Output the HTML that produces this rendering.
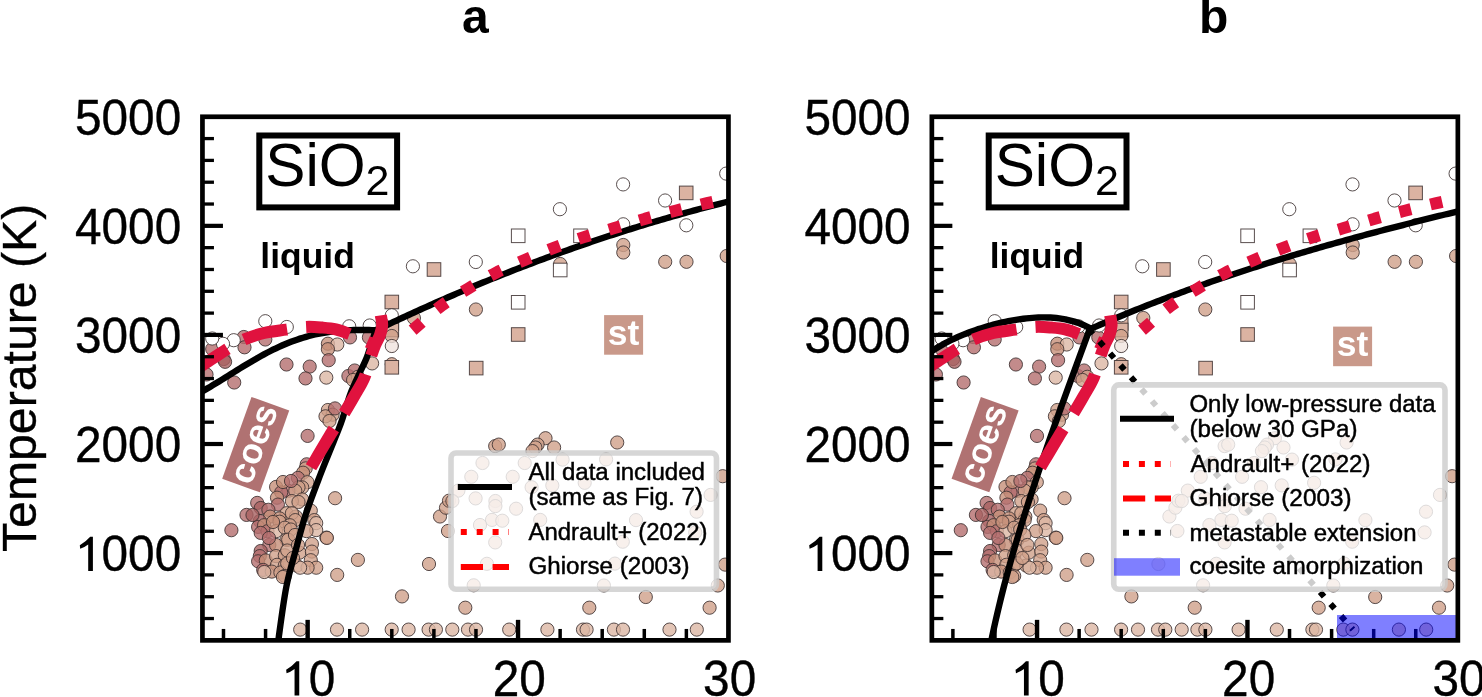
<!DOCTYPE html><html><head><meta charset="utf-8"><style>html,body{margin:0;padding:0;background:#fff;overflow:hidden}svg{display:block;will-change:transform}</style></head><body>
<svg width="1482" height="697" viewBox="0 0 1482 697" font-family="'Liberation Sans', sans-serif">
<rect width="1482" height="697" fill="#fff"/>
<text x="462" y="32.6" font-size="48" font-weight="bold">a</text>
<text x="1199" y="32.6" font-size="48" font-weight="bold">b</text>
<text transform="translate(35.6,552) rotate(-90)" font-size="48" textLength="348.2" lengthAdjust="spacingAndGlyphs" stroke="#000" stroke-width="0.35">Temperature (K)</text>
<g transform="translate(0,0)">
<defs><clipPath id="clipa"><rect x="202.45" y="116.77" width="526" height="523.58"/></clipPath></defs>
<g clip-path="url(#clipa)">
<g stroke="#3c3030" stroke-width="1" stroke-opacity="0.85">
<circle cx="559.9" cy="209.2" r="6.6" fill="#ffffff" fill-opacity="1"/>
<circle cx="623.1" cy="184.4" r="6.6" fill="#ffffff" fill-opacity="1"/>
<circle cx="665.1" cy="200.5" r="6.6" fill="#ffffff" fill-opacity="1"/>
<rect x="679.4" y="186.1" width="13.6" height="13.6" fill="#dbb3a2"/>
<circle cx="686.3" cy="225.3" r="6.6" fill="#ffffff" fill-opacity="1"/>
<circle cx="726.2" cy="173.6" r="6.6" fill="#ffffff" fill-opacity="1"/>
<circle cx="623.2" cy="224.3" r="6.6" fill="#ffffff" fill-opacity="1"/>
<rect x="511.4" y="229" width="13.6" height="13.6" fill="#ffffff"/>
<rect x="573.7" y="229" width="13.6" height="13.6" fill="#ffffff"/>
<circle cx="412.9" cy="266.3" r="6.6" fill="#ffffff" fill-opacity="1"/>
<rect x="427.2" y="262.7" width="13.6" height="13.6" fill="#dbb3a2"/>
<circle cx="475.8" cy="262" r="6.6" fill="#ffffff" fill-opacity="1"/>
<rect x="511.4" y="295.5" width="13.6" height="13.6" fill="#ffffff"/>
<rect x="511.4" y="327.7" width="13.6" height="13.6" fill="#dbb3a2"/>
<circle cx="475.9" cy="309.5" r="6.6" fill="#d0a08a" fill-opacity="0.8"/>
<circle cx="413.9" cy="318" r="6.6" fill="#d0a08a" fill-opacity="0.8"/>
<circle cx="560.2" cy="264" r="6.6" fill="#d0a08a" fill-opacity="0.8"/>
<rect x="553.4" y="263.2" width="13.6" height="13.6" fill="#ffffff"/>
<circle cx="623.3" cy="245" r="6.6" fill="#d0a08a" fill-opacity="0.8"/>
<circle cx="623.3" cy="252.5" r="6.6" fill="#d0a08a" fill-opacity="0.8"/>
<circle cx="665.2" cy="261.8" r="6.6" fill="#d0a08a" fill-opacity="0.8"/>
<circle cx="686.5" cy="261.8" r="6.6" fill="#d0a08a" fill-opacity="0.8"/>
<circle cx="726.7" cy="256" r="6.6" fill="#d0a08a" fill-opacity="0.8"/>
<rect x="469.4" y="361.3" width="13.6" height="13.6" fill="#dbb3a2"/>
<rect x="385" y="295.2" width="13.6" height="13.6" fill="#dbb3a2"/>
<rect x="385" y="316.7" width="13.6" height="13.6" fill="#dbb3a2"/>
<rect x="385" y="323.2" width="13.6" height="13.6" fill="#dbb3a2"/>
<circle cx="391.8" cy="336" r="6.6" fill="#d0a08a" fill-opacity="0.8"/>
<circle cx="391.8" cy="315.3" r="6.6" fill="#ffffff" fill-opacity="1"/>
<circle cx="391.8" cy="346" r="6.6" fill="#f0e4de" fill-opacity="0.8"/>
<circle cx="391.8" cy="364.2" r="6.6" fill="#d0a08a" fill-opacity="0.8"/>
<rect x="385" y="360.5" width="13.6" height="13.6" fill="#dbb3a2"/>
<circle cx="243.8" cy="337" r="6.6" fill="#b46e6e" fill-opacity="0.8"/>
<circle cx="265.3" cy="339.5" r="6.6" fill="#b46e6e" fill-opacity="0.8"/>
<circle cx="244.5" cy="347.3" r="6.6" fill="#b46e6e" fill-opacity="0.8"/>
<circle cx="212.2" cy="349" r="6.6" fill="#b46e6e" fill-opacity="0.8"/>
<circle cx="223.7" cy="359" r="6.6" fill="#b46e6e" fill-opacity="0.8"/>
<circle cx="225.1" cy="361.8" r="6.6" fill="#a86060" fill-opacity="0.8"/>
<circle cx="206.5" cy="374.5" r="6.6" fill="#b46e6e" fill-opacity="0.8"/>
<circle cx="286.5" cy="364.5" r="6.6" fill="#b46e6e" fill-opacity="0.8"/>
<circle cx="234.2" cy="382.5" r="6.6" fill="#b46e6e" fill-opacity="0.8"/>
<circle cx="350" cy="337.4" r="6.6" fill="#b46e6e" fill-opacity="0.8"/>
<circle cx="368.9" cy="337.4" r="6.6" fill="#b46e6e" fill-opacity="0.8"/>
<circle cx="327.9" cy="343.7" r="6.6" fill="#c58f78" fill-opacity="0.8"/>
<circle cx="337.3" cy="344.5" r="6.6" fill="#dcb6a4" fill-opacity="0.8"/>
<circle cx="327.9" cy="349.2" r="6.6" fill="#c58f78" fill-opacity="0.8"/>
<circle cx="328.7" cy="360.2" r="6.6" fill="#b46e6e" fill-opacity="0.8"/>
<circle cx="309.7" cy="366.6" r="6.6" fill="#b46e6e" fill-opacity="0.8"/>
<circle cx="305.5" cy="378.4" r="6.6" fill="#b46e6e" fill-opacity="0.8"/>
<circle cx="326.3" cy="377.6" r="6.6" fill="#dcb6a4" fill-opacity="0.8"/>
<circle cx="348.4" cy="376" r="6.6" fill="#b46e6e" fill-opacity="0.8"/>
<circle cx="354.7" cy="370.5" r="6.6" fill="#b46e6e" fill-opacity="0.8"/>
<circle cx="357.9" cy="376.8" r="6.6" fill="#d0a08a" fill-opacity="0.8"/>
<circle cx="353.1" cy="380" r="6.6" fill="#d0a08a" fill-opacity="0.8"/>
<circle cx="372.1" cy="363.4" r="6.6" fill="#dcb6a4" fill-opacity="0.8"/>
<circle cx="327.9" cy="410" r="6.6" fill="#d0a08a" fill-opacity="0.8"/>
<circle cx="332.6" cy="414.7" r="6.6" fill="#d0a08a" fill-opacity="0.8"/>
<circle cx="325.5" cy="416.3" r="6.6" fill="#d0a08a" fill-opacity="0.8"/>
<circle cx="335" cy="408.4" r="6.6" fill="#b46e6e" fill-opacity="0.8"/>
<circle cx="329.5" cy="421" r="6.6" fill="#d0a08a" fill-opacity="0.8"/>
<circle cx="307.6" cy="435.9" r="6.6" fill="#b46e6e" fill-opacity="0.8"/>
<circle cx="306.7" cy="464.3" r="6.6" fill="#b46e6e" fill-opacity="0.8"/>
<circle cx="265.3" cy="321.2" r="6.6" fill="#ffffff" fill-opacity="1"/>
<circle cx="286.8" cy="327" r="6.6" fill="#ffffff" fill-opacity="1"/>
<circle cx="233.7" cy="340.2" r="6.6" fill="#ffffff" fill-opacity="1"/>
<circle cx="223" cy="343.8" r="6.6" fill="#ffffff" fill-opacity="1"/>
<circle cx="212.2" cy="338.5" r="6.6" fill="#ffffff" fill-opacity="1"/>
<circle cx="349.2" cy="326.3" r="6.6" fill="#ffffff" fill-opacity="1"/>
<circle cx="369.7" cy="325.5" r="6.6" fill="#ffffff" fill-opacity="1"/>
<circle cx="305.7" cy="468.4" r="6.6" fill="#d0a08a" fill-opacity="0.8"/>
<circle cx="303.1" cy="472.7" r="6.6" fill="#c58f78" fill-opacity="0.8"/>
<circle cx="297.9" cy="477.9" r="6.6" fill="#b46e6e" fill-opacity="0.8"/>
<circle cx="307.4" cy="482.2" r="6.6" fill="#d0a08a" fill-opacity="0.8"/>
<circle cx="302.2" cy="487.4" r="6.6" fill="#d0a08a" fill-opacity="0.8"/>
<circle cx="298.5" cy="487.4" r="6.6" fill="#d0a08a" fill-opacity="0.8"/>
<circle cx="288.4" cy="490.8" r="6.6" fill="#b46e6e" fill-opacity="0.8"/>
<circle cx="295.3" cy="490.8" r="6.6" fill="#d0a08a" fill-opacity="0.8"/>
<circle cx="302.2" cy="499.4" r="6.6" fill="#d0a08a" fill-opacity="0.8"/>
<circle cx="291.9" cy="501.1" r="6.6" fill="#d0a08a" fill-opacity="0.8"/>
<circle cx="298.5" cy="502" r="6.6" fill="#d0a08a" fill-opacity="0.8"/>
<circle cx="276.1" cy="486.9" r="6.6" fill="#c58f78" fill-opacity="0.8"/>
<circle cx="281.2" cy="492.4" r="6.6" fill="#b46e6e" fill-opacity="0.8"/>
<circle cx="277" cy="497.7" r="6.6" fill="#c58f78" fill-opacity="0.8"/>
<circle cx="277.9" cy="504.6" r="6.6" fill="#b46e6e" fill-opacity="0.8"/>
<circle cx="257.2" cy="502.9" r="6.6" fill="#b46e6e" fill-opacity="0.8"/>
<circle cx="260.7" cy="508" r="6.6" fill="#a86060" fill-opacity="0.8"/>
<circle cx="246.5" cy="514.9" r="6.6" fill="#b46e6e" fill-opacity="0.8"/>
<circle cx="268.4" cy="509.8" r="6.6" fill="#b46e6e" fill-opacity="0.8"/>
<circle cx="270.1" cy="516.6" r="6.6" fill="#c58f78" fill-opacity="0.8"/>
<circle cx="259.8" cy="521" r="6.6" fill="#a86060" fill-opacity="0.8"/>
<circle cx="286.5" cy="513.2" r="6.6" fill="#d0a08a" fill-opacity="0.8"/>
<circle cx="295.9" cy="516.6" r="6.6" fill="#d0a08a" fill-opacity="0.8"/>
<circle cx="279.6" cy="518.4" r="6.6" fill="#c58f78" fill-opacity="0.8"/>
<circle cx="291.9" cy="513.2" r="6.6" fill="#d0a08a" fill-opacity="0.8"/>
<circle cx="295.3" cy="520.1" r="6.6" fill="#d0a08a" fill-opacity="0.8"/>
<circle cx="310.8" cy="510.6" r="6.6" fill="#d0a08a" fill-opacity="0.8"/>
<circle cx="314.3" cy="520.1" r="6.6" fill="#d0a08a" fill-opacity="0.8"/>
<circle cx="279.5" cy="521.7" r="6.6" fill="#d0a08a" fill-opacity="0.8"/>
<circle cx="289.8" cy="525.2" r="6.6" fill="#d0a08a" fill-opacity="0.8"/>
<circle cx="258.1" cy="526.9" r="6.6" fill="#b46e6e" fill-opacity="0.8"/>
<circle cx="264.1" cy="525.2" r="6.6" fill="#c58f78" fill-opacity="0.8"/>
<circle cx="267.5" cy="531.2" r="6.6" fill="#b46e6e" fill-opacity="0.8"/>
<circle cx="276.1" cy="531.2" r="6.6" fill="#dcb6a4" fill-opacity="0.8"/>
<circle cx="260.7" cy="532.9" r="6.6" fill="#b46e6e" fill-opacity="0.8"/>
<circle cx="284.8" cy="527.7" r="6.6" fill="#d0a08a" fill-opacity="0.8"/>
<circle cx="290.8" cy="529.5" r="6.6" fill="#d0a08a" fill-opacity="0.8"/>
<circle cx="286.5" cy="539.8" r="6.6" fill="#d0a08a" fill-opacity="0.8"/>
<circle cx="269.3" cy="545" r="6.6" fill="#b46e6e" fill-opacity="0.8"/>
<circle cx="276.1" cy="545" r="6.6" fill="#c58f78" fill-opacity="0.8"/>
<circle cx="260.7" cy="551" r="6.6" fill="#a86060" fill-opacity="0.8"/>
<circle cx="259.8" cy="556.1" r="6.6" fill="#b46e6e" fill-opacity="0.8"/>
<circle cx="258.1" cy="561.3" r="6.6" fill="#b46e6e" fill-opacity="0.8"/>
<circle cx="265.8" cy="560.4" r="6.6" fill="#c58f78" fill-opacity="0.8"/>
<circle cx="276.1" cy="556.1" r="6.6" fill="#d0a08a" fill-opacity="0.8"/>
<circle cx="284.8" cy="555.3" r="6.6" fill="#d0a08a" fill-opacity="0.8"/>
<circle cx="277" cy="564.8" r="6.6" fill="#d0a08a" fill-opacity="0.8"/>
<circle cx="284.8" cy="565.6" r="6.6" fill="#d0a08a" fill-opacity="0.8"/>
<circle cx="263.2" cy="569.9" r="6.6" fill="#b46e6e" fill-opacity="0.8"/>
<circle cx="271.8" cy="571.6" r="6.6" fill="#c58f78" fill-opacity="0.8"/>
<circle cx="280.4" cy="572.5" r="6.6" fill="#d0a08a" fill-opacity="0.8"/>
<circle cx="284.8" cy="575.9" r="6.6" fill="#d0a08a" fill-opacity="0.8"/>
<circle cx="296.8" cy="565.6" r="6.6" fill="#d0a08a" fill-opacity="0.8"/>
<circle cx="299.4" cy="552.7" r="6.6" fill="#d0a08a" fill-opacity="0.8"/>
<circle cx="316.2" cy="523.1" r="6.6" fill="#dcb6a4" fill-opacity="0.8"/>
<circle cx="316.2" cy="530.1" r="6.6" fill="#dcb6a4" fill-opacity="0.8"/>
<circle cx="326.4" cy="537.6" r="6.6" fill="#d0a08a" fill-opacity="0.8"/>
<circle cx="311.9" cy="544" r="6.6" fill="#d0a08a" fill-opacity="0.8"/>
<circle cx="311.9" cy="551.6" r="6.6" fill="#d0a08a" fill-opacity="0.8"/>
<circle cx="310.8" cy="560.2" r="6.6" fill="#d0a08a" fill-opacity="0.8"/>
<circle cx="316.2" cy="567.7" r="6.6" fill="#d0a08a" fill-opacity="0.8"/>
<circle cx="307.6" cy="567.7" r="6.6" fill="#d0a08a" fill-opacity="0.8"/>
<circle cx="300.1" cy="567.7" r="6.6" fill="#dcb6a4" fill-opacity="0.8"/>
<circle cx="306.5" cy="531.1" r="6.6" fill="#d0a08a" fill-opacity="0.8"/>
<circle cx="288.2" cy="539.7" r="6.6" fill="#d0a08a" fill-opacity="0.8"/>
<circle cx="287.2" cy="550.5" r="6.6" fill="#d0a08a" fill-opacity="0.8"/>
<circle cx="287.2" cy="563.4" r="6.6" fill="#d0a08a" fill-opacity="0.8"/>
<circle cx="295" cy="535" r="6.6" fill="#d0a08a" fill-opacity="0.8"/>
<circle cx="298" cy="545" r="6.6" fill="#d0a08a" fill-opacity="0.8"/>
<circle cx="293" cy="558" r="6.6" fill="#d0a08a" fill-opacity="0.8"/>
<circle cx="264.3" cy="572" r="6.6" fill="#dcb6a4" fill-opacity="0.8"/>
<circle cx="282.9" cy="577" r="6.6" fill="#d0a08a" fill-opacity="0.8"/>
<circle cx="269" cy="538" r="6.6" fill="#b46e6e" fill-opacity="0.8"/>
<circle cx="283" cy="482" r="6.6" fill="#c58f78" fill-opacity="0.8"/>
<circle cx="291" cy="481" r="6.6" fill="#b46e6e" fill-opacity="0.8"/>
<circle cx="273" cy="522" r="6.6" fill="#c58f78" fill-opacity="0.8"/>
<circle cx="252.5" cy="515" r="6.6" fill="#a86060" fill-opacity="0.8"/>
<circle cx="231.4" cy="530.2" r="6.6" fill="#b46e6e" fill-opacity="0.8"/>
<circle cx="335.1" cy="498.2" r="6.6" fill="#d0a08a" fill-opacity="0.8"/>
<circle cx="337.2" cy="574.9" r="6.6" fill="#d0a08a" fill-opacity="0.8"/>
<circle cx="326.9" cy="537.9" r="6.6" fill="#d0a08a" fill-opacity="0.8"/>
<circle cx="357.9" cy="559.9" r="6.6" fill="#d0a08a" fill-opacity="0.8"/>
<circle cx="429" cy="564" r="6.6" fill="#d0a08a" fill-opacity="0.8"/>
<circle cx="402" cy="596.4" r="6.6" fill="#d0a08a" fill-opacity="0.8"/>
<circle cx="440" cy="516.5" r="6.6" fill="#d0a08a" fill-opacity="0.8"/>
<circle cx="446" cy="507.7" r="6.6" fill="#d0a08a" fill-opacity="0.8"/>
<circle cx="449" cy="500.7" r="6.6" fill="#d0a08a" fill-opacity="0.8"/>
<circle cx="448" cy="531" r="6.6" fill="#d0a08a" fill-opacity="0.8"/>
<circle cx="465.3" cy="607.7" r="6.6" fill="#d0a08a" fill-opacity="0.8"/>
<circle cx="589.3" cy="607.7" r="6.6" fill="#d0a08a" fill-opacity="0.8"/>
<circle cx="645.8" cy="597" r="6.6" fill="#d0a08a" fill-opacity="0.8"/>
<circle cx="709.6" cy="607.7" r="6.6" fill="#d0a08a" fill-opacity="0.8"/>
<circle cx="717.8" cy="585.5" r="6.6" fill="#d0a08a" fill-opacity="0.8"/>
<circle cx="725.1" cy="564.6" r="6.6" fill="#d0a08a" fill-opacity="0.8"/>
<circle cx="722.7" cy="476.2" r="6.6" fill="#d0a08a" fill-opacity="0.8"/>
<circle cx="495.2" cy="446.1" r="6.6" fill="#d0a08a" fill-opacity="0.8"/>
<circle cx="498.8" cy="444.6" r="6.6" fill="#d0a08a" fill-opacity="0.8"/>
<circle cx="545.5" cy="438.2" r="6.6" fill="#d0a08a" fill-opacity="0.8"/>
<circle cx="537.6" cy="444.6" r="6.6" fill="#d0a08a" fill-opacity="0.8"/>
<circle cx="535.4" cy="447.5" r="6.6" fill="#d0a08a" fill-opacity="0.8"/>
<circle cx="532.5" cy="451.1" r="6.6" fill="#d0a08a" fill-opacity="0.8"/>
<circle cx="554.1" cy="447.5" r="6.6" fill="#d0a08a" fill-opacity="0.8"/>
<circle cx="617.2" cy="442.5" r="6.6" fill="#d0a08a" fill-opacity="0.8"/>
<circle cx="482.5" cy="463" r="6.6" fill="#d0a08a" fill-opacity="0.8"/>
<circle cx="471.3" cy="476.8" r="6.6" fill="#d0a08a" fill-opacity="0.8"/>
<circle cx="512.7" cy="476.8" r="6.6" fill="#d0a08a" fill-opacity="0.8"/>
<circle cx="524.7" cy="463" r="6.6" fill="#d0a08a" fill-opacity="0.8"/>
<circle cx="562.6" cy="459.6" r="6.6" fill="#d0a08a" fill-opacity="0.8"/>
<circle cx="475.6" cy="498.4" r="6.6" fill="#d0a08a" fill-opacity="0.8"/>
<circle cx="495.4" cy="501" r="6.6" fill="#d0a08a" fill-opacity="0.8"/>
<circle cx="495.4" cy="506.1" r="6.6" fill="#d0a08a" fill-opacity="0.8"/>
<circle cx="516.1" cy="508.7" r="6.6" fill="#d0a08a" fill-opacity="0.8"/>
<circle cx="531.6" cy="487.2" r="6.6" fill="#d0a08a" fill-opacity="0.8"/>
<circle cx="552.3" cy="485.4" r="6.6" fill="#d0a08a" fill-opacity="0.8"/>
<circle cx="492" cy="519.9" r="6.6" fill="#d0a08a" fill-opacity="0.8"/>
<circle cx="502.3" cy="520.7" r="6.6" fill="#d0a08a" fill-opacity="0.8"/>
<circle cx="480" cy="525" r="6.6" fill="#d0a08a" fill-opacity="0.8"/>
<circle cx="540.2" cy="519.9" r="6.6" fill="#d0a08a" fill-opacity="0.8"/>
<circle cx="458.4" cy="490.6" r="6.6" fill="#d0a08a" fill-opacity="0.8"/>
<circle cx="452.4" cy="501" r="6.6" fill="#d0a08a" fill-opacity="0.8"/>
<circle cx="606.1" cy="459.4" r="6.6" fill="#d0a08a" fill-opacity="0.8"/>
<circle cx="584.7" cy="482.8" r="6.6" fill="#d0a08a" fill-opacity="0.8"/>
<circle cx="636" cy="520.1" r="6.6" fill="#d0a08a" fill-opacity="0.8"/>
<circle cx="696.6" cy="511.7" r="6.6" fill="#d0a08a" fill-opacity="0.8"/>
<circle cx="710.6" cy="494.9" r="6.6" fill="#d0a08a" fill-opacity="0.8"/>
<circle cx="695.2" cy="532.4" r="6.6" fill="#d0a08a" fill-opacity="0.8"/>
<circle cx="495.2" cy="542.4" r="6.6" fill="#d0a08a" fill-opacity="0.8"/>
<circle cx="486.9" cy="563.8" r="6.6" fill="#d0a08a" fill-opacity="0.8"/>
<circle cx="473.7" cy="585.3" r="6.6" fill="#d0a08a" fill-opacity="0.8"/>
<circle cx="603.9" cy="585.5" r="6.6" fill="#d0a08a" fill-opacity="0.8"/>
<circle cx="614.9" cy="563.6" r="6.6" fill="#d0a08a" fill-opacity="0.8"/>
<circle cx="622.8" cy="541.7" r="6.6" fill="#d0a08a" fill-opacity="0.8"/>
<circle cx="300.2" cy="629.6" r="6.6" fill="#dcb6a4" fill-opacity="0.8"/>
<circle cx="337" cy="629.6" r="6.6" fill="#dcb6a4" fill-opacity="0.8"/>
<circle cx="362.1" cy="629.6" r="6.6" fill="#dcb6a4" fill-opacity="0.8"/>
<circle cx="391.7" cy="629.6" r="6.6" fill="#dcb6a4" fill-opacity="0.8"/>
<circle cx="408.6" cy="629.6" r="6.6" fill="#dcb6a4" fill-opacity="0.8"/>
<circle cx="428.6" cy="629.6" r="6.6" fill="#dcb6a4" fill-opacity="0.8"/>
<circle cx="435.9" cy="629.6" r="6.6" fill="#dcb6a4" fill-opacity="0.8"/>
<circle cx="452.3" cy="629.6" r="6.6" fill="#dcb6a4" fill-opacity="0.8"/>
<circle cx="468" cy="629.6" r="6.6" fill="#dcb6a4" fill-opacity="0.8"/>
<circle cx="476" cy="629.6" r="6.6" fill="#dcb6a4" fill-opacity="0.8"/>
<circle cx="509.2" cy="629.6" r="6.6" fill="#dcb6a4" fill-opacity="0.8"/>
<circle cx="547.4" cy="629.6" r="6.6" fill="#dcb6a4" fill-opacity="0.8"/>
<circle cx="583" cy="629.6" r="6.6" fill="#dcb6a4" fill-opacity="0.8"/>
<circle cx="586.6" cy="629.6" r="6.6" fill="#dcb6a4" fill-opacity="0.8"/>
<circle cx="613.9" cy="629.6" r="6.6" fill="#dcb6a4" fill-opacity="0.8"/>
<circle cx="623" cy="629.6" r="6.6" fill="#dcb6a4" fill-opacity="0.8"/>
<circle cx="669.5" cy="629.6" r="6.6" fill="#dcb6a4" fill-opacity="0.8"/>
<circle cx="696.8" cy="629.6" r="6.6" fill="#dcb6a4" fill-opacity="0.8"/>
</g>
<path d="M198 393.58 L201 391.99 L204 390.34 L207 388.64 L210 386.89 L213 385.11 L216 383.3 L219 381.47 L222 379.61 L225 377.75 L228 375.87 L231 373.99 L234 372.11 L237 370.24 L240 368.38 L243 366.54 L246 364.71 L249 362.91 L252 361.14 L255 359.39 L258 357.68 L261 356.01 L264 354.37 L267 352.78 L270 351.23 L273 349.73 L276 348.28 L279 346.88 L282 345.54 L285 344.24 L288 343.01 L291 341.83 L294 340.71 L297 339.65 L300 338.64 L303 337.7 L306 336.81 L309 335.99 L312 335.22 L315 334.51 L318 333.86 L321 333.27 L324 332.74 L327 332.25 L330 331.82 L333 331.45 L336 331.12 L339 330.84 L342 330.61 L345 330.41 L348 330.26 L351 330.15 L354 330.07 L357 330.02 L360 330 L363 330 L366 330.02 L369 330.06 L372 330.11 L375 330.17 L375.5 330.18" fill="none" stroke="#000" stroke-width="6.4" stroke-linejoin="round"/>
<path d="M375.5 330.2 C374.8 332.5 372.78 339.37 371.3 344 C369.82 348.63 368.35 353.58 366.6 358 C364.85 362.42 362.73 366.33 360.8 370.5 C358.87 374.67 356.87 378.75 355 383 C353.13 387.25 351.63 390.22 349.6 396 C347.57 401.78 344.68 412 342.8 417.7 C340.92 423.4 340.67 424.15 338.3 430.2 C335.93 436.25 331.93 445.7 328.6 454 C325.27 462.3 322.17 469.75 318.3 480 C314.43 490.25 309.2 503.67 305.4 515.5 C301.6 527.33 298.67 539.17 295.5 551 C292.33 562.83 289.17 572.3 286.4 586.5 C283.63 600.7 280.25 626.28 278.9 636.2 C277.55 646.12 278.4 644.37 278.3 646" fill="none" stroke="#000" stroke-width="6.4" stroke-linejoin="round"/>
<path d="M375.5 330.5 L378.5 329.06 L381.5 327.63 L384.5 326.2 L387.5 324.77 L390.5 323.35 L393.5 321.94 L396.5 320.54 L399.5 319.14 L402.5 317.74 L405.5 316.35 L408.5 314.97 L411.5 313.59 L414.5 312.22 L417.5 310.86 L420.5 309.5 L423.5 308.15 L426.5 306.8 L429.5 305.46 L432.5 304.12 L435.5 302.79 L438.5 301.47 L441.5 300.15 L444.5 298.84 L447.5 297.54 L450.5 296.24 L453.5 294.94 L456.5 293.66 L459.5 292.37 L462.5 291.1 L465.5 289.83 L468.5 288.56 L471.5 287.31 L474.5 286.05 L477.5 284.81 L480.5 283.57 L483.5 282.33 L486.5 281.1 L489.5 279.88 L492.5 278.66 L495.5 277.45 L498.5 276.25 L501.5 275.05 L504.5 273.86 L507.5 272.67 L510.5 271.49 L513.5 270.31 L516.5 269.14 L519.5 267.98 L522.5 266.82 L525.5 265.67 L528.5 264.53 L531.5 263.39 L534.5 262.25 L537.5 261.12 L540.5 260 L543.5 258.89 L546.5 257.78 L549.5 256.67 L552.5 255.57 L555.5 254.48 L558.5 253.39 L561.5 252.31 L564.5 251.24 L567.5 250.17 L570.5 249.11 L573.5 248.05 L576.5 247 L579.5 245.96 L582.5 244.92 L585.5 243.88 L588.5 242.86 L591.5 241.84 L594.5 240.82 L597.5 239.81 L600.5 238.81 L603.5 237.81 L606.5 236.82 L609.5 235.83 L612.5 234.85 L615.5 233.88 L618.5 232.91 L621.5 231.95 L624.5 230.99 L627.5 230.04 L630.5 229.1 L633.5 228.16 L636.5 227.23 L639.5 226.3 L642.5 225.38 L645.5 224.47 L648.5 223.56 L651.5 222.66 L654.5 221.76 L657.5 220.87 L660.5 219.98 L663.5 219.1 L666.5 218.23 L669.5 217.36 L672.5 216.5 L675.5 215.65 L678.5 214.8 L681.5 213.96 L684.5 213.12 L687.5 212.29 L690.5 211.46 L693.5 210.64 L696.5 209.83 L699.5 209.02 L702.5 208.22 L705.5 207.42 L708.5 206.63 L711.5 205.85 L714.5 205.07 L717.5 204.3 L720.5 203.53 L723.5 202.77 L726.5 202.02 L729.5 201.27 L732.5 200.52 L733 200.4" fill="none" stroke="#000" stroke-width="6.4" stroke-linejoin="round"/>
<path d="M190 373 C192.07 371.7 196.4 369.1 202.45 365.2 C208.5 361.3 219.46 353.83 226.3 349.6 C233.14 345.37 237.22 342.57 243.5 339.8 C249.78 337.03 256.9 334.7 264 333 C271.1 331.3 279.1 330.62 286.1 329.6 C293.1 328.58 299.92 327.23 306 326.9 C312.08 326.57 317.63 327.18 322.6 327.6 C327.57 328.02 331.35 328.33 335.8 329.4 C340.25 330.47 342.93 331.48 349.3 334 C355.67 336.52 369.88 342.75 374 344.5" fill="none" stroke="#e0123e" stroke-width="12" stroke-dasharray="44.4 19.2" stroke-dashoffset="0"/>
<path d="M311 467.3 C314.5 461.42 326.55 440.9 332 432 C337.45 423.1 340.03 419.82 343.7 413.9 C347.37 407.98 350.62 402.4 354 396.5 C357.38 390.6 361.25 384.92 364 378.5 C366.75 372.08 368.67 363.5 370.5 358 C372.33 352.5 373.42 349.33 375 345.5 C376.58 341.67 378.8 338.42 380 335 C381.2 331.58 382.07 328.28 382.2 325 C382.33 321.72 381.03 316.92 380.8 315.3" fill="none" stroke="#e0123e" stroke-width="12" stroke-dasharray="44.4 19.2"/>
<path d="M412.6 330.1 C413.37 329.45 412.38 330.28 417.2 326.2 C422.02 322.12 432.93 311.92 441.5 305.6 C450.07 299.28 459.53 293.77 468.6 288.3 C477.67 282.83 486.55 277.53 495.9 272.8 C505.25 268.07 515.03 264.07 524.7 259.9 C534.37 255.73 544.03 251.6 553.9 247.8 C563.77 244 573.82 240.38 583.9 237.1 C593.98 233.82 604.28 231.13 614.4 228.1 C624.52 225.07 634.43 221.8 644.6 218.9 C654.77 216 665 213.33 675.4 210.7 C685.8 208.07 697.9 205.22 707 203.1 C716.1 200.98 726.17 198.85 730 198" fill="none" stroke="#e0123e" stroke-width="12" stroke-dasharray="12 19.8"/>
</g>
<line x1="202.45" y1="618.53" x2="213.95" y2="618.53" stroke="#000" stroke-width="3.3"/>
<line x1="202.45" y1="596.72" x2="213.95" y2="596.72" stroke="#000" stroke-width="3.3"/>
<line x1="202.45" y1="574.9" x2="213.95" y2="574.9" stroke="#000" stroke-width="3.3"/>
<line x1="202.45" y1="553.09" x2="222.95" y2="553.09" stroke="#000" stroke-width="4.2"/>
<line x1="202.45" y1="531.27" x2="213.95" y2="531.27" stroke="#000" stroke-width="3.3"/>
<line x1="202.45" y1="509.45" x2="213.95" y2="509.45" stroke="#000" stroke-width="3.3"/>
<line x1="202.45" y1="487.64" x2="213.95" y2="487.64" stroke="#000" stroke-width="3.3"/>
<line x1="202.45" y1="465.82" x2="213.95" y2="465.82" stroke="#000" stroke-width="3.3"/>
<line x1="202.45" y1="444.01" x2="222.95" y2="444.01" stroke="#000" stroke-width="4.2"/>
<line x1="202.45" y1="422.19" x2="213.95" y2="422.19" stroke="#000" stroke-width="3.3"/>
<line x1="202.45" y1="400.37" x2="213.95" y2="400.37" stroke="#000" stroke-width="3.3"/>
<line x1="202.45" y1="378.56" x2="213.95" y2="378.56" stroke="#000" stroke-width="3.3"/>
<line x1="202.45" y1="356.74" x2="213.95" y2="356.74" stroke="#000" stroke-width="3.3"/>
<line x1="202.45" y1="334.93" x2="222.95" y2="334.93" stroke="#000" stroke-width="4.2"/>
<line x1="202.45" y1="313.11" x2="213.95" y2="313.11" stroke="#000" stroke-width="3.3"/>
<line x1="202.45" y1="291.29" x2="213.95" y2="291.29" stroke="#000" stroke-width="3.3"/>
<line x1="202.45" y1="269.48" x2="213.95" y2="269.48" stroke="#000" stroke-width="3.3"/>
<line x1="202.45" y1="247.66" x2="213.95" y2="247.66" stroke="#000" stroke-width="3.3"/>
<line x1="202.45" y1="225.85" x2="222.95" y2="225.85" stroke="#000" stroke-width="4.2"/>
<line x1="202.45" y1="204.03" x2="213.95" y2="204.03" stroke="#000" stroke-width="3.3"/>
<line x1="202.45" y1="182.21" x2="213.95" y2="182.21" stroke="#000" stroke-width="3.3"/>
<line x1="202.45" y1="160.4" x2="213.95" y2="160.4" stroke="#000" stroke-width="3.3"/>
<line x1="202.45" y1="138.58" x2="213.95" y2="138.58" stroke="#000" stroke-width="3.3"/>
<line x1="223.49" y1="640.35" x2="223.49" y2="628.95" stroke="#000" stroke-width="3.5"/>
<line x1="265.57" y1="640.35" x2="265.57" y2="628.95" stroke="#000" stroke-width="3.5"/>
<line x1="307.65" y1="640.35" x2="307.65" y2="619.85" stroke="#000" stroke-width="4.4"/>
<line x1="349.73" y1="640.35" x2="349.73" y2="628.95" stroke="#000" stroke-width="3.5"/>
<line x1="391.81" y1="640.35" x2="391.81" y2="628.95" stroke="#000" stroke-width="3.5"/>
<line x1="433.89" y1="640.35" x2="433.89" y2="628.95" stroke="#000" stroke-width="3.5"/>
<line x1="475.97" y1="640.35" x2="475.97" y2="628.95" stroke="#000" stroke-width="3.5"/>
<line x1="518.05" y1="640.35" x2="518.05" y2="619.85" stroke="#000" stroke-width="4.4"/>
<line x1="560.13" y1="640.35" x2="560.13" y2="628.95" stroke="#000" stroke-width="3.5"/>
<line x1="602.21" y1="640.35" x2="602.21" y2="628.95" stroke="#000" stroke-width="3.5"/>
<line x1="644.29" y1="640.35" x2="644.29" y2="628.95" stroke="#000" stroke-width="3.5"/>
<line x1="686.37" y1="640.35" x2="686.37" y2="628.95" stroke="#000" stroke-width="3.5"/>

<rect x="202.45" y="116.77" width="526" height="523.58" fill="none" stroke="#000" stroke-width="4.7"/>
<text transform="translate(181.2,571.39) scale(0.955,1)" font-size="50" text-anchor="end" stroke="#000" stroke-width="0.4">000</text>
<text transform="translate(181.2,462.31) scale(0.955,1)" font-size="50" text-anchor="end" stroke="#000" stroke-width="0.4">2000</text>
<text transform="translate(181.2,353.23) scale(0.955,1)" font-size="50" text-anchor="end" stroke="#000" stroke-width="0.4">3000</text>
<text transform="translate(181.2,244.15) scale(0.955,1)" font-size="50" text-anchor="end" stroke="#000" stroke-width="0.4">4000</text>
<text transform="translate(181.2,135.07) scale(0.955,1)" font-size="50" text-anchor="end" stroke="#000" stroke-width="0.4">5000</text>
<path transform="translate(0,0.7)" d="M92.9 536.1 L92.9 570.3 L88.2 570.3 L88.2 543.9 Q84.5 546.8 80.2 548.1 L79.8 544.5 Q86.5 540.5 90.2 536.1 Z"/>
<path transform="translate(206.35,125.2)" d="M92.9 536.1 L92.9 570.3 L88.2 570.3 L88.2 543.9 Q84.5 546.8 80.2 548.1 L79.8 544.5 Q86.5 540.5 90.2 536.1 Z"/>
<text transform="translate(335.4,695.8) scale(0.955,1)" font-size="50" text-anchor="end" stroke="#000" stroke-width="0.4">0</text>
<text transform="translate(519.25,695.8) scale(0.955,1)" font-size="50" text-anchor="middle" stroke="#000" stroke-width="0.4">20</text>
<text transform="translate(729.65,695.8) scale(0.955,1)" font-size="50" text-anchor="middle" stroke="#000" stroke-width="0.4">30</text>
<rect x="259.3" y="135.5" width="137.8" height="71.9" fill="#fff" stroke="#000" stroke-width="6"/><text x="265.3" y="185.5" font-size="62" textLength="100.4" lengthAdjust="spacingAndGlyphs">SiO</text><text x="365.6" y="194.9" font-size="43">2</text>
<text x="260.3" y="267.8" font-size="35.5" font-weight="bold" textLength="94.5" lengthAdjust="spacingAndGlyphs">liquid</text>
</g>
<g transform="translate(729.4,0)">
<defs><clipPath id="clipb"><rect x="202.45" y="116.77" width="526" height="523.58"/></clipPath></defs>
<g clip-path="url(#clipb)">
<g stroke="#3c3030" stroke-width="1" stroke-opacity="0.85">
<circle cx="559.9" cy="209.2" r="6.6" fill="#ffffff" fill-opacity="1"/>
<circle cx="623.1" cy="184.4" r="6.6" fill="#ffffff" fill-opacity="1"/>
<circle cx="665.1" cy="200.5" r="6.6" fill="#ffffff" fill-opacity="1"/>
<rect x="679.4" y="186.1" width="13.6" height="13.6" fill="#dbb3a2"/>
<circle cx="686.3" cy="225.3" r="6.6" fill="#ffffff" fill-opacity="1"/>
<circle cx="726.2" cy="173.6" r="6.6" fill="#ffffff" fill-opacity="1"/>
<circle cx="623.2" cy="224.3" r="6.6" fill="#ffffff" fill-opacity="1"/>
<rect x="511.4" y="229" width="13.6" height="13.6" fill="#ffffff"/>
<rect x="573.7" y="229" width="13.6" height="13.6" fill="#ffffff"/>
<circle cx="412.9" cy="266.3" r="6.6" fill="#ffffff" fill-opacity="1"/>
<rect x="427.2" y="262.7" width="13.6" height="13.6" fill="#dbb3a2"/>
<circle cx="475.8" cy="262" r="6.6" fill="#ffffff" fill-opacity="1"/>
<rect x="511.4" y="295.5" width="13.6" height="13.6" fill="#ffffff"/>
<rect x="511.4" y="327.7" width="13.6" height="13.6" fill="#dbb3a2"/>
<circle cx="475.9" cy="309.5" r="6.6" fill="#d0a08a" fill-opacity="0.8"/>
<circle cx="413.9" cy="318" r="6.6" fill="#d0a08a" fill-opacity="0.8"/>
<circle cx="560.2" cy="264" r="6.6" fill="#d0a08a" fill-opacity="0.8"/>
<rect x="553.4" y="263.2" width="13.6" height="13.6" fill="#ffffff"/>
<circle cx="623.3" cy="245" r="6.6" fill="#d0a08a" fill-opacity="0.8"/>
<circle cx="623.3" cy="252.5" r="6.6" fill="#d0a08a" fill-opacity="0.8"/>
<circle cx="665.2" cy="261.8" r="6.6" fill="#d0a08a" fill-opacity="0.8"/>
<circle cx="686.5" cy="261.8" r="6.6" fill="#d0a08a" fill-opacity="0.8"/>
<circle cx="726.7" cy="256" r="6.6" fill="#d0a08a" fill-opacity="0.8"/>
<rect x="469.4" y="361.3" width="13.6" height="13.6" fill="#dbb3a2"/>
<rect x="385" y="295.2" width="13.6" height="13.6" fill="#dbb3a2"/>
<rect x="385" y="316.7" width="13.6" height="13.6" fill="#dbb3a2"/>
<rect x="385" y="323.2" width="13.6" height="13.6" fill="#dbb3a2"/>
<circle cx="391.8" cy="336" r="6.6" fill="#d0a08a" fill-opacity="0.8"/>
<circle cx="391.8" cy="315.3" r="6.6" fill="#ffffff" fill-opacity="1"/>
<circle cx="391.8" cy="346" r="6.6" fill="#f0e4de" fill-opacity="0.8"/>
<circle cx="391.8" cy="364.2" r="6.6" fill="#d0a08a" fill-opacity="0.8"/>
<rect x="385" y="360.5" width="13.6" height="13.6" fill="#dbb3a2"/>
<circle cx="243.8" cy="337" r="6.6" fill="#b46e6e" fill-opacity="0.8"/>
<circle cx="265.3" cy="339.5" r="6.6" fill="#b46e6e" fill-opacity="0.8"/>
<circle cx="244.5" cy="347.3" r="6.6" fill="#b46e6e" fill-opacity="0.8"/>
<circle cx="212.2" cy="349" r="6.6" fill="#b46e6e" fill-opacity="0.8"/>
<circle cx="223.7" cy="359" r="6.6" fill="#b46e6e" fill-opacity="0.8"/>
<circle cx="225.1" cy="361.8" r="6.6" fill="#a86060" fill-opacity="0.8"/>
<circle cx="206.5" cy="374.5" r="6.6" fill="#b46e6e" fill-opacity="0.8"/>
<circle cx="286.5" cy="364.5" r="6.6" fill="#b46e6e" fill-opacity="0.8"/>
<circle cx="234.2" cy="382.5" r="6.6" fill="#b46e6e" fill-opacity="0.8"/>
<circle cx="350" cy="337.4" r="6.6" fill="#b46e6e" fill-opacity="0.8"/>
<circle cx="368.9" cy="337.4" r="6.6" fill="#b46e6e" fill-opacity="0.8"/>
<circle cx="327.9" cy="343.7" r="6.6" fill="#c58f78" fill-opacity="0.8"/>
<circle cx="337.3" cy="344.5" r="6.6" fill="#dcb6a4" fill-opacity="0.8"/>
<circle cx="327.9" cy="349.2" r="6.6" fill="#c58f78" fill-opacity="0.8"/>
<circle cx="328.7" cy="360.2" r="6.6" fill="#b46e6e" fill-opacity="0.8"/>
<circle cx="309.7" cy="366.6" r="6.6" fill="#b46e6e" fill-opacity="0.8"/>
<circle cx="305.5" cy="378.4" r="6.6" fill="#b46e6e" fill-opacity="0.8"/>
<circle cx="326.3" cy="377.6" r="6.6" fill="#dcb6a4" fill-opacity="0.8"/>
<circle cx="348.4" cy="376" r="6.6" fill="#b46e6e" fill-opacity="0.8"/>
<circle cx="354.7" cy="370.5" r="6.6" fill="#b46e6e" fill-opacity="0.8"/>
<circle cx="357.9" cy="376.8" r="6.6" fill="#d0a08a" fill-opacity="0.8"/>
<circle cx="353.1" cy="380" r="6.6" fill="#d0a08a" fill-opacity="0.8"/>
<circle cx="372.1" cy="363.4" r="6.6" fill="#dcb6a4" fill-opacity="0.8"/>
<circle cx="327.9" cy="410" r="6.6" fill="#d0a08a" fill-opacity="0.8"/>
<circle cx="332.6" cy="414.7" r="6.6" fill="#d0a08a" fill-opacity="0.8"/>
<circle cx="325.5" cy="416.3" r="6.6" fill="#d0a08a" fill-opacity="0.8"/>
<circle cx="335" cy="408.4" r="6.6" fill="#b46e6e" fill-opacity="0.8"/>
<circle cx="329.5" cy="421" r="6.6" fill="#d0a08a" fill-opacity="0.8"/>
<circle cx="307.6" cy="435.9" r="6.6" fill="#b46e6e" fill-opacity="0.8"/>
<circle cx="306.7" cy="464.3" r="6.6" fill="#b46e6e" fill-opacity="0.8"/>
<circle cx="265.3" cy="321.2" r="6.6" fill="#ffffff" fill-opacity="1"/>
<circle cx="286.8" cy="327" r="6.6" fill="#ffffff" fill-opacity="1"/>
<circle cx="233.7" cy="340.2" r="6.6" fill="#ffffff" fill-opacity="1"/>
<circle cx="223" cy="343.8" r="6.6" fill="#ffffff" fill-opacity="1"/>
<circle cx="212.2" cy="338.5" r="6.6" fill="#ffffff" fill-opacity="1"/>
<circle cx="349.2" cy="326.3" r="6.6" fill="#ffffff" fill-opacity="1"/>
<circle cx="369.7" cy="325.5" r="6.6" fill="#ffffff" fill-opacity="1"/>
<circle cx="305.7" cy="468.4" r="6.6" fill="#d0a08a" fill-opacity="0.8"/>
<circle cx="303.1" cy="472.7" r="6.6" fill="#c58f78" fill-opacity="0.8"/>
<circle cx="297.9" cy="477.9" r="6.6" fill="#b46e6e" fill-opacity="0.8"/>
<circle cx="307.4" cy="482.2" r="6.6" fill="#d0a08a" fill-opacity="0.8"/>
<circle cx="302.2" cy="487.4" r="6.6" fill="#d0a08a" fill-opacity="0.8"/>
<circle cx="298.5" cy="487.4" r="6.6" fill="#d0a08a" fill-opacity="0.8"/>
<circle cx="288.4" cy="490.8" r="6.6" fill="#b46e6e" fill-opacity="0.8"/>
<circle cx="295.3" cy="490.8" r="6.6" fill="#d0a08a" fill-opacity="0.8"/>
<circle cx="302.2" cy="499.4" r="6.6" fill="#d0a08a" fill-opacity="0.8"/>
<circle cx="291.9" cy="501.1" r="6.6" fill="#d0a08a" fill-opacity="0.8"/>
<circle cx="298.5" cy="502" r="6.6" fill="#d0a08a" fill-opacity="0.8"/>
<circle cx="276.1" cy="486.9" r="6.6" fill="#c58f78" fill-opacity="0.8"/>
<circle cx="281.2" cy="492.4" r="6.6" fill="#b46e6e" fill-opacity="0.8"/>
<circle cx="277" cy="497.7" r="6.6" fill="#c58f78" fill-opacity="0.8"/>
<circle cx="277.9" cy="504.6" r="6.6" fill="#b46e6e" fill-opacity="0.8"/>
<circle cx="257.2" cy="502.9" r="6.6" fill="#b46e6e" fill-opacity="0.8"/>
<circle cx="260.7" cy="508" r="6.6" fill="#a86060" fill-opacity="0.8"/>
<circle cx="246.5" cy="514.9" r="6.6" fill="#b46e6e" fill-opacity="0.8"/>
<circle cx="268.4" cy="509.8" r="6.6" fill="#b46e6e" fill-opacity="0.8"/>
<circle cx="270.1" cy="516.6" r="6.6" fill="#c58f78" fill-opacity="0.8"/>
<circle cx="259.8" cy="521" r="6.6" fill="#a86060" fill-opacity="0.8"/>
<circle cx="286.5" cy="513.2" r="6.6" fill="#d0a08a" fill-opacity="0.8"/>
<circle cx="295.9" cy="516.6" r="6.6" fill="#d0a08a" fill-opacity="0.8"/>
<circle cx="279.6" cy="518.4" r="6.6" fill="#c58f78" fill-opacity="0.8"/>
<circle cx="291.9" cy="513.2" r="6.6" fill="#d0a08a" fill-opacity="0.8"/>
<circle cx="295.3" cy="520.1" r="6.6" fill="#d0a08a" fill-opacity="0.8"/>
<circle cx="310.8" cy="510.6" r="6.6" fill="#d0a08a" fill-opacity="0.8"/>
<circle cx="314.3" cy="520.1" r="6.6" fill="#d0a08a" fill-opacity="0.8"/>
<circle cx="279.5" cy="521.7" r="6.6" fill="#d0a08a" fill-opacity="0.8"/>
<circle cx="289.8" cy="525.2" r="6.6" fill="#d0a08a" fill-opacity="0.8"/>
<circle cx="258.1" cy="526.9" r="6.6" fill="#b46e6e" fill-opacity="0.8"/>
<circle cx="264.1" cy="525.2" r="6.6" fill="#c58f78" fill-opacity="0.8"/>
<circle cx="267.5" cy="531.2" r="6.6" fill="#b46e6e" fill-opacity="0.8"/>
<circle cx="276.1" cy="531.2" r="6.6" fill="#dcb6a4" fill-opacity="0.8"/>
<circle cx="260.7" cy="532.9" r="6.6" fill="#b46e6e" fill-opacity="0.8"/>
<circle cx="284.8" cy="527.7" r="6.6" fill="#d0a08a" fill-opacity="0.8"/>
<circle cx="290.8" cy="529.5" r="6.6" fill="#d0a08a" fill-opacity="0.8"/>
<circle cx="286.5" cy="539.8" r="6.6" fill="#d0a08a" fill-opacity="0.8"/>
<circle cx="269.3" cy="545" r="6.6" fill="#b46e6e" fill-opacity="0.8"/>
<circle cx="276.1" cy="545" r="6.6" fill="#c58f78" fill-opacity="0.8"/>
<circle cx="260.7" cy="551" r="6.6" fill="#a86060" fill-opacity="0.8"/>
<circle cx="259.8" cy="556.1" r="6.6" fill="#b46e6e" fill-opacity="0.8"/>
<circle cx="258.1" cy="561.3" r="6.6" fill="#b46e6e" fill-opacity="0.8"/>
<circle cx="265.8" cy="560.4" r="6.6" fill="#c58f78" fill-opacity="0.8"/>
<circle cx="276.1" cy="556.1" r="6.6" fill="#d0a08a" fill-opacity="0.8"/>
<circle cx="284.8" cy="555.3" r="6.6" fill="#d0a08a" fill-opacity="0.8"/>
<circle cx="277" cy="564.8" r="6.6" fill="#d0a08a" fill-opacity="0.8"/>
<circle cx="284.8" cy="565.6" r="6.6" fill="#d0a08a" fill-opacity="0.8"/>
<circle cx="263.2" cy="569.9" r="6.6" fill="#b46e6e" fill-opacity="0.8"/>
<circle cx="271.8" cy="571.6" r="6.6" fill="#c58f78" fill-opacity="0.8"/>
<circle cx="280.4" cy="572.5" r="6.6" fill="#d0a08a" fill-opacity="0.8"/>
<circle cx="284.8" cy="575.9" r="6.6" fill="#d0a08a" fill-opacity="0.8"/>
<circle cx="296.8" cy="565.6" r="6.6" fill="#d0a08a" fill-opacity="0.8"/>
<circle cx="299.4" cy="552.7" r="6.6" fill="#d0a08a" fill-opacity="0.8"/>
<circle cx="316.2" cy="523.1" r="6.6" fill="#dcb6a4" fill-opacity="0.8"/>
<circle cx="316.2" cy="530.1" r="6.6" fill="#dcb6a4" fill-opacity="0.8"/>
<circle cx="326.4" cy="537.6" r="6.6" fill="#d0a08a" fill-opacity="0.8"/>
<circle cx="311.9" cy="544" r="6.6" fill="#d0a08a" fill-opacity="0.8"/>
<circle cx="311.9" cy="551.6" r="6.6" fill="#d0a08a" fill-opacity="0.8"/>
<circle cx="310.8" cy="560.2" r="6.6" fill="#d0a08a" fill-opacity="0.8"/>
<circle cx="316.2" cy="567.7" r="6.6" fill="#d0a08a" fill-opacity="0.8"/>
<circle cx="307.6" cy="567.7" r="6.6" fill="#d0a08a" fill-opacity="0.8"/>
<circle cx="300.1" cy="567.7" r="6.6" fill="#dcb6a4" fill-opacity="0.8"/>
<circle cx="306.5" cy="531.1" r="6.6" fill="#d0a08a" fill-opacity="0.8"/>
<circle cx="288.2" cy="539.7" r="6.6" fill="#d0a08a" fill-opacity="0.8"/>
<circle cx="287.2" cy="550.5" r="6.6" fill="#d0a08a" fill-opacity="0.8"/>
<circle cx="287.2" cy="563.4" r="6.6" fill="#d0a08a" fill-opacity="0.8"/>
<circle cx="295" cy="535" r="6.6" fill="#d0a08a" fill-opacity="0.8"/>
<circle cx="298" cy="545" r="6.6" fill="#d0a08a" fill-opacity="0.8"/>
<circle cx="293" cy="558" r="6.6" fill="#d0a08a" fill-opacity="0.8"/>
<circle cx="264.3" cy="572" r="6.6" fill="#dcb6a4" fill-opacity="0.8"/>
<circle cx="282.9" cy="577" r="6.6" fill="#d0a08a" fill-opacity="0.8"/>
<circle cx="269" cy="538" r="6.6" fill="#b46e6e" fill-opacity="0.8"/>
<circle cx="283" cy="482" r="6.6" fill="#c58f78" fill-opacity="0.8"/>
<circle cx="291" cy="481" r="6.6" fill="#b46e6e" fill-opacity="0.8"/>
<circle cx="273" cy="522" r="6.6" fill="#c58f78" fill-opacity="0.8"/>
<circle cx="252.5" cy="515" r="6.6" fill="#a86060" fill-opacity="0.8"/>
<circle cx="231.4" cy="530.2" r="6.6" fill="#b46e6e" fill-opacity="0.8"/>
<circle cx="335.1" cy="498.2" r="6.6" fill="#d0a08a" fill-opacity="0.8"/>
<circle cx="337.2" cy="574.9" r="6.6" fill="#d0a08a" fill-opacity="0.8"/>
<circle cx="326.9" cy="537.9" r="6.6" fill="#d0a08a" fill-opacity="0.8"/>
<circle cx="357.9" cy="559.9" r="6.6" fill="#d0a08a" fill-opacity="0.8"/>
<circle cx="429" cy="564" r="6.6" fill="#d0a08a" fill-opacity="0.8"/>
<circle cx="402" cy="596.4" r="6.6" fill="#d0a08a" fill-opacity="0.8"/>
<circle cx="440" cy="516.5" r="6.6" fill="#d0a08a" fill-opacity="0.8"/>
<circle cx="446" cy="507.7" r="6.6" fill="#d0a08a" fill-opacity="0.8"/>
<circle cx="449" cy="500.7" r="6.6" fill="#d0a08a" fill-opacity="0.8"/>
<circle cx="448" cy="531" r="6.6" fill="#d0a08a" fill-opacity="0.8"/>
<circle cx="465.3" cy="607.7" r="6.6" fill="#d0a08a" fill-opacity="0.8"/>
<circle cx="589.3" cy="607.7" r="6.6" fill="#d0a08a" fill-opacity="0.8"/>
<circle cx="645.8" cy="597" r="6.6" fill="#d0a08a" fill-opacity="0.8"/>
<circle cx="709.6" cy="607.7" r="6.6" fill="#d0a08a" fill-opacity="0.8"/>
<circle cx="717.8" cy="585.5" r="6.6" fill="#d0a08a" fill-opacity="0.8"/>
<circle cx="725.1" cy="564.6" r="6.6" fill="#d0a08a" fill-opacity="0.8"/>
<circle cx="722.7" cy="476.2" r="6.6" fill="#d0a08a" fill-opacity="0.8"/>
<circle cx="495.2" cy="446.1" r="6.6" fill="#d0a08a" fill-opacity="0.8"/>
<circle cx="498.8" cy="444.6" r="6.6" fill="#d0a08a" fill-opacity="0.8"/>
<circle cx="545.5" cy="438.2" r="6.6" fill="#d0a08a" fill-opacity="0.8"/>
<circle cx="537.6" cy="444.6" r="6.6" fill="#d0a08a" fill-opacity="0.8"/>
<circle cx="535.4" cy="447.5" r="6.6" fill="#d0a08a" fill-opacity="0.8"/>
<circle cx="532.5" cy="451.1" r="6.6" fill="#d0a08a" fill-opacity="0.8"/>
<circle cx="554.1" cy="447.5" r="6.6" fill="#d0a08a" fill-opacity="0.8"/>
<circle cx="617.2" cy="442.5" r="6.6" fill="#d0a08a" fill-opacity="0.8"/>
<circle cx="482.5" cy="463" r="6.6" fill="#d0a08a" fill-opacity="0.8"/>
<circle cx="471.3" cy="476.8" r="6.6" fill="#d0a08a" fill-opacity="0.8"/>
<circle cx="512.7" cy="476.8" r="6.6" fill="#d0a08a" fill-opacity="0.8"/>
<circle cx="524.7" cy="463" r="6.6" fill="#d0a08a" fill-opacity="0.8"/>
<circle cx="562.6" cy="459.6" r="6.6" fill="#d0a08a" fill-opacity="0.8"/>
<circle cx="475.6" cy="498.4" r="6.6" fill="#d0a08a" fill-opacity="0.8"/>
<circle cx="495.4" cy="501" r="6.6" fill="#d0a08a" fill-opacity="0.8"/>
<circle cx="495.4" cy="506.1" r="6.6" fill="#d0a08a" fill-opacity="0.8"/>
<circle cx="516.1" cy="508.7" r="6.6" fill="#d0a08a" fill-opacity="0.8"/>
<circle cx="531.6" cy="487.2" r="6.6" fill="#d0a08a" fill-opacity="0.8"/>
<circle cx="552.3" cy="485.4" r="6.6" fill="#d0a08a" fill-opacity="0.8"/>
<circle cx="492" cy="519.9" r="6.6" fill="#d0a08a" fill-opacity="0.8"/>
<circle cx="502.3" cy="520.7" r="6.6" fill="#d0a08a" fill-opacity="0.8"/>
<circle cx="480" cy="525" r="6.6" fill="#d0a08a" fill-opacity="0.8"/>
<circle cx="540.2" cy="519.9" r="6.6" fill="#d0a08a" fill-opacity="0.8"/>
<circle cx="458.4" cy="490.6" r="6.6" fill="#d0a08a" fill-opacity="0.8"/>
<circle cx="452.4" cy="501" r="6.6" fill="#d0a08a" fill-opacity="0.8"/>
<circle cx="606.1" cy="459.4" r="6.6" fill="#d0a08a" fill-opacity="0.8"/>
<circle cx="584.7" cy="482.8" r="6.6" fill="#d0a08a" fill-opacity="0.8"/>
<circle cx="636" cy="520.1" r="6.6" fill="#d0a08a" fill-opacity="0.8"/>
<circle cx="696.6" cy="511.7" r="6.6" fill="#d0a08a" fill-opacity="0.8"/>
<circle cx="710.6" cy="494.9" r="6.6" fill="#d0a08a" fill-opacity="0.8"/>
<circle cx="695.2" cy="532.4" r="6.6" fill="#d0a08a" fill-opacity="0.8"/>
<circle cx="495.2" cy="542.4" r="6.6" fill="#d0a08a" fill-opacity="0.8"/>
<circle cx="486.9" cy="563.8" r="6.6" fill="#d0a08a" fill-opacity="0.8"/>
<circle cx="473.7" cy="585.3" r="6.6" fill="#d0a08a" fill-opacity="0.8"/>
<circle cx="603.9" cy="585.5" r="6.6" fill="#d0a08a" fill-opacity="0.8"/>
<circle cx="614.9" cy="563.6" r="6.6" fill="#d0a08a" fill-opacity="0.8"/>
<circle cx="622.8" cy="541.7" r="6.6" fill="#d0a08a" fill-opacity="0.8"/>
<circle cx="300.2" cy="629.6" r="6.6" fill="#dcb6a4" fill-opacity="0.8"/>
<circle cx="337" cy="629.6" r="6.6" fill="#dcb6a4" fill-opacity="0.8"/>
<circle cx="362.1" cy="629.6" r="6.6" fill="#dcb6a4" fill-opacity="0.8"/>
<circle cx="391.7" cy="629.6" r="6.6" fill="#dcb6a4" fill-opacity="0.8"/>
<circle cx="408.6" cy="629.6" r="6.6" fill="#dcb6a4" fill-opacity="0.8"/>
<circle cx="428.6" cy="629.6" r="6.6" fill="#dcb6a4" fill-opacity="0.8"/>
<circle cx="435.9" cy="629.6" r="6.6" fill="#dcb6a4" fill-opacity="0.8"/>
<circle cx="452.3" cy="629.6" r="6.6" fill="#dcb6a4" fill-opacity="0.8"/>
<circle cx="468" cy="629.6" r="6.6" fill="#dcb6a4" fill-opacity="0.8"/>
<circle cx="476" cy="629.6" r="6.6" fill="#dcb6a4" fill-opacity="0.8"/>
<circle cx="509.2" cy="629.6" r="6.6" fill="#dcb6a4" fill-opacity="0.8"/>
<circle cx="547.4" cy="629.6" r="6.6" fill="#dcb6a4" fill-opacity="0.8"/>
<circle cx="583" cy="629.6" r="6.6" fill="#dcb6a4" fill-opacity="0.8"/>
<circle cx="586.6" cy="629.6" r="6.6" fill="#dcb6a4" fill-opacity="0.8"/>
<circle cx="613.9" cy="629.6" r="6.6" fill="#dcb6a4" fill-opacity="0.8"/>
<circle cx="623" cy="629.6" r="6.6" fill="#dcb6a4" fill-opacity="0.8"/>
<circle cx="669.5" cy="629.6" r="6.6" fill="#dcb6a4" fill-opacity="0.8"/>
<circle cx="696.8" cy="629.6" r="6.6" fill="#dcb6a4" fill-opacity="0.8"/>
</g>
<path d="M198 354.03 L201 351.98 L204 350.03 L207 348.16 L210 346.38 L213 344.67 L216 343.05 L219 341.49 L222 340 L225 338.58 L228 337.21 L231 335.91 L234 334.66 L237 333.46 L240 332.31 L243 331.21 L246 330.15 L249 329.14 L252 328.17 L255 327.24 L258 326.35 L261 325.5 L264 324.69 L267 323.92 L270 323.18 L273 322.49 L276 321.83 L279 321.21 L282 320.63 L285 320.1 L288 319.6 L291 319.15 L294 318.75 L297 318.39 L300 318.08 L303 317.83 L306 317.63 L309 317.48 L312 317.4 L315 317.38 L318 317.43 L321 317.55 L324 317.75 L327 318.03 L330 318.39 L333 318.84 L336 319.39 L339 320.03 L342 320.78 L345 321.64 L348 322.62 L351 323.72 L354 324.95 L357 326.31 L360 327.81 L361.6 328.68" fill="none" stroke="#000" stroke-width="6.4" stroke-linejoin="round"/>
<path d="M360.57 328.4 L359.46 331.4 L358.36 334.4 L357.25 337.4 L356.15 340.4 L355.04 343.4 L353.94 346.4 L352.84 349.4 L351.73 352.4 L350.63 355.4 L349.53 358.4 L348.42 361.4 L347.32 364.4 L346.22 367.4 L345.12 370.4 L344.02 373.4 L342.92 376.4 L341.83 379.4 L340.73 382.4 L339.64 385.4 L338.54 388.4 L337.45 391.4 L336.36 394.4 L335.27 397.4 L334.19 400.4 L333.1 403.4 L332.02 406.4 L330.94 409.4 L329.87 412.4 L328.79 415.4 L327.72 418.4 L326.65 421.4 L325.58 424.4 L324.51 427.4 L323.45 430.4 L322.39 433.4 L321.34 436.4 L320.28 439.4 L319.23 442.4 L318.19 445.4 L317.15 448.4 L316.11 451.4 L315.07 454.4 L314.04 457.4 L313.01 460.4 L311.99 463.4 L310.96 466.4 L309.95 469.4 L308.94 472.4 L307.93 475.4 L306.92 478.4 L305.93 481.4 L304.93 484.4 L303.94 487.4 L302.96 490.4 L301.98 493.4 L301 496.4 L300.03 499.4 L299.07 502.4 L298.11 505.4 L297.15 508.4 L296.2 511.4 L295.26 514.4 L294.32 517.4 L293.39 520.4 L292.46 523.4 L291.54 526.4 L290.63 529.4 L289.72 532.4 L288.82 535.4 L287.93 538.4 L287.04 541.4 L286.16 544.4 L285.28 547.4 L284.41 550.4 L283.55 553.4 L282.69 556.4 L281.85 559.4 L281 562.4 L280.17 565.4 L279.34 568.4 L278.52 571.4 L277.71 574.4 L276.91 577.4 L276.11 580.4 L275.32 583.4 L274.54 586.4 L273.77 589.4 L273.01 592.4 L272.25 595.4 L271.5 598.4 L270.76 601.4 L270.03 604.4 L269.31 607.4 L268.6 610.4 L267.89 613.4 L267.19 616.4 L266.51 619.4 L265.83 622.4 L265.16 625.4 L264.5 628.4 L263.85 631.4 L263.21 634.4 L262.58 637.4 L261.96 640.4 L261.34 643.4 L260.82 646" fill="none" stroke="#000" stroke-width="6.4" stroke-linejoin="round"/>
<path d="M361.6 328.72 L364.6 327.41 L367.6 326.1 L370.6 324.8 L373.6 323.51 L376.6 322.23 L379.6 320.96 L382.6 319.69 L385.6 318.43 L388.6 317.18 L391.6 315.93 L394.6 314.7 L397.6 313.47 L400.6 312.25 L403.6 311.03 L406.6 309.82 L409.6 308.62 L412.6 307.43 L415.6 306.24 L418.6 305.06 L421.6 303.89 L424.6 302.73 L427.6 301.57 L430.6 300.41 L433.6 299.27 L436.6 298.13 L439.6 297 L442.6 295.87 L445.6 294.75 L448.6 293.64 L451.6 292.54 L454.6 291.44 L457.6 290.34 L460.6 289.26 L463.6 288.18 L466.6 287.1 L469.6 286.03 L472.6 284.97 L475.6 283.92 L478.6 282.87 L481.6 281.82 L484.6 280.78 L487.6 279.75 L490.6 278.72 L493.6 277.7 L496.6 276.69 L499.6 275.68 L502.6 274.67 L505.6 273.68 L508.6 272.68 L511.6 271.7 L514.6 270.71 L517.6 269.74 L520.6 268.77 L523.6 267.8 L526.6 266.84 L529.6 265.88 L532.6 264.93 L535.6 263.98 L538.6 263.04 L541.6 262.11 L544.6 261.18 L547.6 260.25 L550.6 259.33 L553.6 258.41 L556.6 257.5 L559.6 256.59 L562.6 255.69 L565.6 254.79 L568.6 253.9 L571.6 253.01 L574.6 252.12 L577.6 251.24 L580.6 250.36 L583.6 249.49 L586.6 248.62 L589.6 247.76 L592.6 246.9 L595.6 246.04 L598.6 245.19 L601.6 244.34 L604.6 243.5 L607.6 242.66 L610.6 241.82 L613.6 240.99 L616.6 240.16 L619.6 239.33 L622.6 238.51 L625.6 237.69 L628.6 236.88 L631.6 236.06 L634.6 235.26 L637.6 234.45 L640.6 233.65 L643.6 232.85 L646.6 232.05 L649.6 231.26 L652.6 230.47 L655.6 229.68 L658.6 228.9 L661.6 228.12 L664.6 227.34 L667.6 226.57 L670.6 225.79 L673.6 225.03 L676.6 224.26 L679.6 223.49 L682.6 222.73 L685.6 221.97 L688.6 221.22 L691.6 220.46 L694.6 219.71 L697.6 218.96 L700.6 218.21 L703.6 217.47 L706.6 216.72 L709.6 215.98 L712.6 215.24 L715.6 214.5 L718.6 213.77 L721.6 213.04 L724.6 212.3 L727.6 211.57 L730.6 210.85 L733 210.26" fill="none" stroke="#000" stroke-width="6.4" stroke-linejoin="round"/>
<path d="M190 373 C192.07 371.7 196.4 369.1 202.45 365.2 C208.5 361.3 219.46 353.83 226.3 349.6 C233.14 345.37 237.22 342.57 243.5 339.8 C249.78 337.03 256.9 334.7 264 333 C271.1 331.3 279.1 330.62 286.1 329.6 C293.1 328.58 299.92 327.23 306 326.9 C312.08 326.57 317.63 327.18 322.6 327.6 C327.57 328.02 331.35 328.33 335.8 329.4 C340.25 330.47 342.93 331.48 349.3 334 C355.67 336.52 369.88 342.75 374 344.5" fill="none" stroke="#e0123e" stroke-width="12" stroke-dasharray="44.4 19.2" stroke-dashoffset="0"/>
<path d="M311 467.3 C314.5 461.42 326.55 440.9 332 432 C337.45 423.1 340.03 419.82 343.7 413.9 C347.37 407.98 350.62 402.4 354 396.5 C357.38 390.6 361.25 384.92 364 378.5 C366.75 372.08 368.67 363.5 370.5 358 C372.33 352.5 373.42 349.33 375 345.5 C376.58 341.67 378.8 338.42 380 335 C381.2 331.58 382.07 328.28 382.2 325 C382.33 321.72 381.03 316.92 380.8 315.3" fill="none" stroke="#e0123e" stroke-width="12" stroke-dasharray="44.4 19.2"/>
<path d="M412.6 330.1 C413.37 329.45 412.38 330.28 417.2 326.2 C422.02 322.12 432.93 311.92 441.5 305.6 C450.07 299.28 459.53 293.77 468.6 288.3 C477.67 282.83 486.55 277.53 495.9 272.8 C505.25 268.07 515.03 264.07 524.7 259.9 C534.37 255.73 544.03 251.6 553.9 247.8 C563.77 244 573.82 240.38 583.9 237.1 C593.98 233.82 604.28 231.13 614.4 228.1 C624.52 225.07 634.43 221.8 644.6 218.9 C654.77 216 665 213.33 675.4 210.7 C685.8 208.07 697.9 205.22 707 203.1 C716.1 200.98 726.17 198.85 730 198" fill="none" stroke="#e0123e" stroke-width="12" stroke-dasharray="12 19.8"/>
<path d="M359.6 329.5 L623.5 629.4" fill="none" stroke="#000" stroke-width="6" stroke-dasharray="6 9.9"/>
</g>
<line x1="202.45" y1="618.53" x2="213.95" y2="618.53" stroke="#000" stroke-width="3.3"/>
<line x1="202.45" y1="596.72" x2="213.95" y2="596.72" stroke="#000" stroke-width="3.3"/>
<line x1="202.45" y1="574.9" x2="213.95" y2="574.9" stroke="#000" stroke-width="3.3"/>
<line x1="202.45" y1="553.09" x2="222.95" y2="553.09" stroke="#000" stroke-width="4.2"/>
<line x1="202.45" y1="531.27" x2="213.95" y2="531.27" stroke="#000" stroke-width="3.3"/>
<line x1="202.45" y1="509.45" x2="213.95" y2="509.45" stroke="#000" stroke-width="3.3"/>
<line x1="202.45" y1="487.64" x2="213.95" y2="487.64" stroke="#000" stroke-width="3.3"/>
<line x1="202.45" y1="465.82" x2="213.95" y2="465.82" stroke="#000" stroke-width="3.3"/>
<line x1="202.45" y1="444.01" x2="222.95" y2="444.01" stroke="#000" stroke-width="4.2"/>
<line x1="202.45" y1="422.19" x2="213.95" y2="422.19" stroke="#000" stroke-width="3.3"/>
<line x1="202.45" y1="400.37" x2="213.95" y2="400.37" stroke="#000" stroke-width="3.3"/>
<line x1="202.45" y1="378.56" x2="213.95" y2="378.56" stroke="#000" stroke-width="3.3"/>
<line x1="202.45" y1="356.74" x2="213.95" y2="356.74" stroke="#000" stroke-width="3.3"/>
<line x1="202.45" y1="334.93" x2="222.95" y2="334.93" stroke="#000" stroke-width="4.2"/>
<line x1="202.45" y1="313.11" x2="213.95" y2="313.11" stroke="#000" stroke-width="3.3"/>
<line x1="202.45" y1="291.29" x2="213.95" y2="291.29" stroke="#000" stroke-width="3.3"/>
<line x1="202.45" y1="269.48" x2="213.95" y2="269.48" stroke="#000" stroke-width="3.3"/>
<line x1="202.45" y1="247.66" x2="213.95" y2="247.66" stroke="#000" stroke-width="3.3"/>
<line x1="202.45" y1="225.85" x2="222.95" y2="225.85" stroke="#000" stroke-width="4.2"/>
<line x1="202.45" y1="204.03" x2="213.95" y2="204.03" stroke="#000" stroke-width="3.3"/>
<line x1="202.45" y1="182.21" x2="213.95" y2="182.21" stroke="#000" stroke-width="3.3"/>
<line x1="202.45" y1="160.4" x2="213.95" y2="160.4" stroke="#000" stroke-width="3.3"/>
<line x1="202.45" y1="138.58" x2="213.95" y2="138.58" stroke="#000" stroke-width="3.3"/>
<line x1="223.49" y1="640.35" x2="223.49" y2="628.95" stroke="#000" stroke-width="3.5"/>
<line x1="265.57" y1="640.35" x2="265.57" y2="628.95" stroke="#000" stroke-width="3.5"/>
<line x1="307.65" y1="640.35" x2="307.65" y2="619.85" stroke="#000" stroke-width="4.4"/>
<line x1="349.73" y1="640.35" x2="349.73" y2="628.95" stroke="#000" stroke-width="3.5"/>
<line x1="391.81" y1="640.35" x2="391.81" y2="628.95" stroke="#000" stroke-width="3.5"/>
<line x1="433.89" y1="640.35" x2="433.89" y2="628.95" stroke="#000" stroke-width="3.5"/>
<line x1="475.97" y1="640.35" x2="475.97" y2="628.95" stroke="#000" stroke-width="3.5"/>
<line x1="518.05" y1="640.35" x2="518.05" y2="619.85" stroke="#000" stroke-width="4.4"/>
<line x1="560.13" y1="640.35" x2="560.13" y2="628.95" stroke="#000" stroke-width="3.5"/>
<line x1="602.21" y1="640.35" x2="602.21" y2="628.95" stroke="#000" stroke-width="3.5"/>
<line x1="644.29" y1="640.35" x2="644.29" y2="628.95" stroke="#000" stroke-width="3.5"/>
<line x1="686.37" y1="640.35" x2="686.37" y2="628.95" stroke="#000" stroke-width="3.5"/>
<rect x="607.6" y="615" width="120.85" height="25.35" fill="#0000ff" fill-opacity="0.5"/>
<rect x="202.45" y="116.77" width="526" height="523.58" fill="none" stroke="#000" stroke-width="4.7"/>
<text transform="translate(181.2,571.39) scale(0.955,1)" font-size="50" text-anchor="end" stroke="#000" stroke-width="0.4">000</text>
<text transform="translate(181.2,462.31) scale(0.955,1)" font-size="50" text-anchor="end" stroke="#000" stroke-width="0.4">2000</text>
<text transform="translate(181.2,353.23) scale(0.955,1)" font-size="50" text-anchor="end" stroke="#000" stroke-width="0.4">3000</text>
<text transform="translate(181.2,244.15) scale(0.955,1)" font-size="50" text-anchor="end" stroke="#000" stroke-width="0.4">4000</text>
<text transform="translate(181.2,135.07) scale(0.955,1)" font-size="50" text-anchor="end" stroke="#000" stroke-width="0.4">5000</text>
<path transform="translate(0,0.7)" d="M92.9 536.1 L92.9 570.3 L88.2 570.3 L88.2 543.9 Q84.5 546.8 80.2 548.1 L79.8 544.5 Q86.5 540.5 90.2 536.1 Z"/>
<path transform="translate(206.35,125.2)" d="M92.9 536.1 L92.9 570.3 L88.2 570.3 L88.2 543.9 Q84.5 546.8 80.2 548.1 L79.8 544.5 Q86.5 540.5 90.2 536.1 Z"/>
<text transform="translate(335.4,695.8) scale(0.955,1)" font-size="50" text-anchor="end" stroke="#000" stroke-width="0.4">0</text>
<text transform="translate(519.25,695.8) scale(0.955,1)" font-size="50" text-anchor="middle" stroke="#000" stroke-width="0.4">20</text>
<text transform="translate(729.65,695.8) scale(0.955,1)" font-size="50" text-anchor="middle" stroke="#000" stroke-width="0.4">30</text>
<rect x="259.3" y="135.5" width="137.8" height="71.9" fill="#fff" stroke="#000" stroke-width="6"/><text x="265.3" y="185.5" font-size="62" textLength="100.4" lengthAdjust="spacingAndGlyphs">SiO</text><text x="365.6" y="194.9" font-size="43">2</text>
<text x="260.3" y="267.8" font-size="35.5" font-weight="bold" textLength="94.5" lengthAdjust="spacingAndGlyphs">liquid</text>
</g>
<rect x="604.1" y="315.1" width="39" height="39.6" fill="#c9998a"/><text x="623.6" y="344.7" font-size="35.5" font-weight="bold" fill="#fff" text-anchor="middle">st</text>
<rect x="1333.1" y="326.6" width="39" height="39.6" fill="#c9998a"/><text x="1352.6" y="356.2" font-size="35.5" font-weight="bold" fill="#fff" text-anchor="middle">st</text>
<g transform="translate(255.7,444.6) rotate(-70.3)"><rect x="-43.5" y="-20.05" width="87" height="40.1" fill="#b07272"/><text x="0" y="9.6" font-size="35.5" font-weight="bold" fill="#fff" text-anchor="middle">coes</text></g>
<g transform="translate(985.1,444.6) rotate(-70.3)"><rect x="-43.5" y="-20.05" width="87" height="40.1" fill="#b07272"/><text x="0" y="9.6" font-size="35.5" font-weight="bold" fill="#fff" text-anchor="middle">coes</text></g>
<rect x="451" y="453" width="265.5" height="136.3" rx="5" ry="5" fill="#fff" fill-opacity="0.8" stroke="#cccccc" stroke-opacity="0.8" stroke-width="5.6"/>
<line x1="460.8" y1="487" x2="509" y2="487" stroke="#000" stroke-width="6" stroke-linecap="square"/>
<line x1="460.8" y1="532" x2="509" y2="532" stroke="#ff0000" stroke-width="6" stroke-dasharray="6 9.9"/>
<line x1="460.8" y1="566.9" x2="509" y2="566.9" stroke="#ff0000" stroke-width="6" stroke-dasharray="22.2 9.6"/>
<g font-size="23" stroke="#000" stroke-width="0.45">
<text x="528.5" y="480" textLength="176.5" lengthAdjust="spacingAndGlyphs">All data included</text>
<text x="528.5" y="505" textLength="174.5" lengthAdjust="spacingAndGlyphs">(same as Fig. 7)</text>
<text x="528.5" y="539.7" textLength="179" lengthAdjust="spacingAndGlyphs">Andrault+ (2022)</text>
<text x="528.5" y="574.4" textLength="161" lengthAdjust="spacingAndGlyphs">Ghiorse (2003)</text>
</g>
<rect x="1113.75" y="384.9" width="331.25" height="204.4" rx="5" ry="5" fill="#fff" fill-opacity="0.8" stroke="#cccccc" stroke-opacity="0.8" stroke-width="5.6"/>
<line x1="1123" y1="418.7" x2="1171" y2="418.7" stroke="#000" stroke-width="6" stroke-linecap="square"/>
<line x1="1123" y1="464" x2="1171" y2="464" stroke="#ff0000" stroke-width="6" stroke-dasharray="6 9.9"/>
<line x1="1123" y1="498.6" x2="1171" y2="498.6" stroke="#ff0000" stroke-width="6" stroke-dasharray="22.2 9.6"/>
<line x1="1123" y1="532.8" x2="1171" y2="532.8" stroke="#000" stroke-width="6" stroke-dasharray="6 9.9"/>
<rect x="1114" y="558.2" width="66" height="17.5" fill="#0000ff" fill-opacity="0.5"/>
<g font-size="23" stroke="#000" stroke-width="0.45">
<text x="1189.5" y="411.7" textLength="246" lengthAdjust="spacingAndGlyphs">Only low-pressure data</text>
<text x="1189.5" y="437.3" textLength="168" lengthAdjust="spacingAndGlyphs">(below 30 GPa)</text>
<text x="1190.5" y="472.2" textLength="180" lengthAdjust="spacingAndGlyphs">Andrault+ (2022)</text>
<text x="1189.5" y="506.3" textLength="162" lengthAdjust="spacingAndGlyphs">Ghiorse (2003)</text>
<text x="1189.5" y="540.5" textLength="227" lengthAdjust="spacingAndGlyphs">metastable extension</text>
<text x="1189.5" y="573.9" textLength="234" lengthAdjust="spacingAndGlyphs">coesite amorphization</text>
</g>
</svg></body></html>
